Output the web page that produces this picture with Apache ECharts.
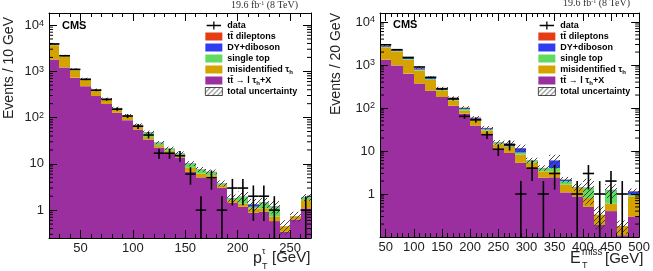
<!DOCTYPE html>
<html><head><meta charset="utf-8">
<script src="https://cdn.jsdelivr.net/npm/echarts@6/dist/echarts.min.js"></script>
<style>html,body{margin:0;padding:0;background:#fff}#c{width:653px;height:271px}</style>
</head><body><div id="c"></div><script>
// ---------- Left panel: tau pT, 10 GeV bins ----------
const ptEdges = [20,30,40,50,60,70,80,90,100,110,120,130,140,150,160,170,180,190,200,210,220,230,240,250,260,270];
const ptData  = [3900,2170,1100,670,390,247,152,108,65,42,17,17,15,6,1,5,1,3,3,2,2,1,0,0,1];
const ptSig   = [1810,1215,730,477,292,196,127,88,55,33.7,22.6,16.8,13.8,6.7,5.1,4.8,3.04,1.44,1.18,0.875,0.92,0.58,0.34,0.63,1.09];
const ptMisid = [1850,855,320,170,82,44,23,16,8,4.2,2.8,2.4,1.7,1.5,1.1,0.9,0.43,0.2,0.21,0.21,0.17,0.14,0.11,0.11,0.55];
const ptStop  = [90,60,35,25,18,11,8,6,5,9,2.8,2.0,1.1,1.8,1.3,0.9,0.3,0.15,0.55,0.1,0.35,0.46,0,0,0.24];
const ptDY    = [60,40,25,15,8,5,3,2,1.5,1,0.5,0.3,0.2,0.2,0.1,0.1,0.03,0.02,0.02,0.15,0.02,0.02,0,0,0.02];
const ptDilep = [25,15,8,5,3,2,1,1,0.5,0.5,0.2,0.1,0.1,0.05,0.05,0.05,0.02,0.01,0.01,0.01,0.01,0.01,0,0,0.01];
const ptUnc   = [0.04,0.04,0.04,0.05,0.05,0.05,0.06,0.06,0.07,0.08,0.08,0.09,0.1,0.12,0.12,0.12,0.15,0.2,0.28,0.3,0.25,0.3,0.35,0.25,0.17];

// ---------- Right panel: MET, 20 GeV bins ----------
const metEdges = [40,60,80,100,120,140,160,180,200,220,240,260,280,300,320,340,360,380,400,420,440,460,480,500];
const metData  = [2950,2270,1500,900,517,277,162,64,53,24,11,14,1,4,1,3,0,1,3,1,2,1,0];
const metSig   = [1330,980,630,370,250,180,113,74,39,25,11.5,9,5.3,4.0,2.4,2.44,1.09,0.88,0.50,0.19,0.40,0.11,0.30];
const metMisid = [1250,1100,700,370,200,75,38,13,14,5,2.8,3.5,2.9,1.3,0.95,0.93,0.56,0.5,0.31,0.14,0.2,0.07,0.58];
const metStop  = [80,60,50,40,25,15,10,8,3,2,1.2,0.4,1.0,0.6,0.6,0.65,0.35,0.05,0.57,0,0.62,0,0.08];
const metDY    = [110,90,80,60,35,20,12,5,3,2,0.3,2.0,2.4,0.1,0.05,2.0,0.15,0.02,0.02,0,0.02,0,0.19];
const metDilep = [30,25,20,15,8,5,3,2,1,0.5,0.2,0.2,0.1,0.05,0.05,0.05,0.02,0.01,0.01,0,0.01,0,0.02];
const metUnc   = [0.04,0.04,0.04,0.05,0.05,0.06,0.06,0.08,0.08,0.1,0.12,0.15,0.2,0.15,0.15,0.35,0.15,0.2,0.6,0.55,0.35,0.35,0.15];

const FONT = '"Liberation Sans", Arial, sans-serif';
const SERIF = '"Liberation Serif", "Times New Roman", serif';
const COLORS = {sig:'#9b2f9f', misid:'#d6a200', stop:'#5fdc5f', dy:'#2f3cf0', dilep:'#e63c14'};
const LABELS = {
  data:'data', dilep:'tt\u0304 dileptons', dy:'DY+diboson', stop:'single top',
  misid:'misidentified \u03c4{sub|h}', sig:'tt\u0304 \u2192 l \u03c4{sub|h}+X', unc:'total uncertainty'
};

function hatchCanvas() {
  const c = document.createElement('canvas'); c.width = 5; c.height = 5;
  const g = c.getContext('2d');
  g.strokeStyle = '#333'; g.lineWidth = 0.9;
  g.beginPath();
  g.moveTo(0,5); g.lineTo(5,0);
  g.moveTo(-1,1); g.lineTo(1,-1);
  g.moveTo(4,6); g.lineTo(6,4);
  g.stroke();
  return c;
}
const HATCH = {image: hatchCanvas(), repeat: 'repeat'};

function rectRender(fill) {
  return function (params, api) {
    const a = api.coord([api.value(0), api.value(3)]);
    const b = api.coord([api.value(1), api.value(2)]);
    const x0 = Math.round(a[0]), x1 = Math.round(b[0]);
    if (!(b[1] > a[1])) return;
    return {type:'rect', shape:{x:x0, y:a[1], width:x1-x0, height:b[1]-a[1]}, style:{fill: fill}};
  };
}
function dataRender(params, api) {
  const c = api.coord([api.value(0), api.value(3)]);
  const l = api.coord([api.value(1), api.value(3)]);
  const r = api.coord([api.value(2), api.value(3)]);
  const lo = api.coord([api.value(0), api.value(4)]);
  const hi = api.coord([api.value(0), api.value(5)]);
  const st = {stroke:'#000', lineWidth:1.6};
  return {type:'group', children:[
    {type:'line', shape:{x1:l[0], y1:c[1], x2:r[0], y2:c[1]}, style:st},
    {type:'line', shape:{x1:c[0], y1:lo[1], x2:c[0], y2:hi[1]}, style:st}
  ]};
}
function minorTickRender(params, api) {
  const cs = params.coordSys;
  const y = api.coord([api.value(0), api.value(1)])[1];
  const st = {stroke:'#000', lineWidth:1};
  return {type:'group', children:[
    {type:'line', shape:{x1:cs.x, y1:y, x2:cs.x+4, y2:y}, style:st},
    {type:'line', shape:{x1:cs.x+cs.width, y1:y, x2:cs.x+cs.width-4, y2:y}, style:st}
  ]};
}

function panelSeries(p, edges, data, comps, unc, yMin, yMax) {
  const keys = ['sig','misid','stop','dy','dilep'];
  const stacks = keys.map(() => []);
  const band = [];
  for (let i = 0; i < edges.length - 1; i++) {
    let cum = 0;
    comps.forEach((arr, k) => {
      const lo = cum; cum += arr[i];
      if (arr[i] > 0) stacks[k].push([edges[i], edges[i+1], Math.max(lo, yMin), cum]);
    });
    band.push([edges[i], edges[i+1], Math.max(cum*(1-unc[i]), yMin), cum*(1+unc[i])]);
  }
  const pts = [];
  data.forEach((n, i) => {
    if (n <= 0) return;
    const e = Math.sqrt(n);
    pts.push([(edges[i]+edges[i+1])/2, edges[i], edges[i+1], n, Math.max(n-e, yMin), n+e]);
  });
  const minors = [];
  for (let k = -2; k <= 4; k++) for (let m = 2; m <= 9; m++) {
    const v = m * Math.pow(10, k);
    if (v > yMin && v < yMax) minors.push([edges[0], v]);
  }
  const ax = {xAxisIndex: p*2, yAxisIndex: p*2};
  const out = [];
  keys.forEach((k, j) => out.push(Object.assign({
    type:'custom', name:k, clip:true, z:2, silent:true,
    itemStyle:{color:COLORS[k]}, encode:{x:[0,1], y:[2,3]},
    data:stacks[j], renderItem:rectRender(COLORS[k])
  }, ax)));
  out.push(Object.assign({type:'custom', name:'unc', clip:true, z:3, silent:true,
    itemStyle:{color:HATCH}, encode:{x:[0,1], y:[2,3]}, data:band, renderItem:rectRender(HATCH)}, ax));
  out.push(Object.assign({type:'custom', name:'data', clip:true, z:4, silent:true,
    itemStyle:{color:'#000'}, encode:{x:[0,1,2], y:[3,4,5]}, data:pts, renderItem:dataRender}, ax));
  out.push(Object.assign({type:'custom', name:'minor', z:12, silent:true,
    encode:{x:0, y:1}, data:minors, renderItem:minorTickRender}, ax));
  return out;
}

const LYMIN = 0.25, LYMAX = 18200, RYMIN = 0.1, RYMAX = 16200;

function yLabel(v) {
  const e = Math.round(Math.log10(v));
  if (e === 0) return '1';
  if (e === 1) return '10';
  return '10{sup|' + e + '}';
}
function xAxisCfg(grid, min, max, split, pos, showMax) {
  return {
    gridIndex:grid, type:'value', min:min, max:max, splitNumber:split, position:pos, z:10,
    axisLine:{show:true, onZero:false, lineStyle:{color:'#000', width:1}},
    axisTick:{show:true, inside:true, length:8, lineStyle:{color:'#000'}},
    minorTick:{show:true, splitNumber:5, length:4, lineStyle:{color:'#000'}},
    splitLine:{show:false}, minorSplitLine:{show:false},
    axisLabel:{show: pos === 'bottom', showMinLabel:false, showMaxLabel:showMax, margin:4,
      fontFamily:FONT, fontSize:13, color:'#222'}
  };
}
function yAxisCfg(grid, min, max, pos) {
  return {
    gridIndex:grid, type:'log', logBase:10, min:min, max:max, position:pos, z:10,
    axisLine:{show:true, onZero:false, lineStyle:{color:'#000', width:1}},
    axisTick:{show:true, inside:true, length:8, lineStyle:{color:'#000'}},
    splitLine:{show:false},
    axisLabel:{show: pos === 'left', showMinLabel:false, showMaxLabel:false, margin:5,
      formatter:yLabel, fontFamily:FONT, fontSize:13, color:'#222',
      rich:{sup:{fontFamily:FONT, fontSize:9, color:'#222', verticalAlign:'top', lineHeight:9}}}
  };
}
const legendItems = [
  {name:'data', icon:'path://M0,4.2H18V5.8H0Z M8.2,0H9.8V10H8.2Z'},
  {name:'dilep', icon:'rect'}, {name:'dy', icon:'rect'}, {name:'stop', icon:'rect'},
  {name:'misid', icon:'rect'}, {name:'sig', icon:'rect'},
  {name:'unc', icon:'rect', itemStyle:{borderColor:'#000', borderWidth:0.7}}
];
function legendCfg(left) {
  return {orient:'vertical', left:left, top:20, itemWidth:17, itemHeight:8, itemGap:0, padding:0,
    selectedMode:false, data:legendItems, formatter:n => LABELS[n],
    textStyle:{fontFamily:FONT, fontSize:9, fontWeight:'bold', color:'#000', lineHeight:11,
      rich:{sub:{fontFamily:FONT, fontSize:6, fontWeight:'bold', color:'#000', lineHeight:5, verticalAlign:'bottom'}}}};
}
function txt(x, y, text, size, extra) {
  return {type:'text', x:x, y:y, z:20, style:Object.assign({text:text, fontFamily:FONT, fontSize:size, fill:'#222',
    align:'left', verticalAlign:'middle', textAlign:'left', textVerticalAlign:'middle'}, extra || {})};
}

const option = {
  animation:false,
  backgroundColor:'#fff',
  grid:[
    {left:49, top:13, width:262, height:225, show:false},
    {left:380, top:13, width:263, height:224, show:false}
  ],
  xAxis:[
    xAxisCfg(0, 20, 270, 5, 'bottom', false), xAxisCfg(0, 20, 270, 5, 'top', false),
    xAxisCfg(1, 40, 500, 9, 'bottom', true), xAxisCfg(1, 40, 500, 9, 'top', true)
  ],
  yAxis:[
    yAxisCfg(0, LYMIN, LYMAX, 'left'), yAxisCfg(0, LYMIN, LYMAX, 'right'),
    yAxisCfg(1, RYMIN, RYMAX, 'left'), yAxisCfg(1, RYMIN, RYMAX, 'right')
  ],
  legend:[legendCfg(205), legendCfg(538)],
  series: [].concat(
    panelSeries(0, ptEdges, ptData, [ptSig, ptMisid, ptStop, ptDY, ptDilep], ptUnc, LYMIN, LYMAX),
    panelSeries(1, metEdges, metData, [metSig, metMisid, metStop, metDY, metDilep], metUnc, RYMIN, RYMAX)
  ),
  graphic:[
    txt(9, 68, 'Events / 10 GeV', 14, {align:'center', textAlign:'center'}),
    txt(336, 64, 'Events / 20 GeV', 14, {align:'center', textAlign:'center'}),
    txt(62, 26, 'CMS', 11, {fontWeight:'bold', fill:'#000'}),
    txt(393, 25, 'CMS', 11, {fontWeight:'bold', fill:'#000'}),
    txt(298, 5, '19.6 fb{sup|-1} (8 TeV)', 10, {fontFamily:SERIF, fill:'#333', align:'right', textAlign:'right',
      rich:{sup:{fontFamily:SERIF, fontSize:6, fill:'#333', verticalAlign:'top', lineHeight:5}}}),
    txt(630, 3, '19.6 fb{sup|-1} (8 TeV)', 10, {fontFamily:SERIF, fill:'#333', align:'right', textAlign:'right',
      rich:{sup:{fontFamily:SERIF, fontSize:6, fill:'#333', verticalAlign:'top', lineHeight:5}}}),
    txt(253, 259, 'p', 16),
    txt(262, 252, '\u03c4', 9),
    txt(262, 267, 'T', 9),
    txt(272, 258, '[GeV]', 15),
    txt(570, 259, 'E', 16),
    txt(582, 252, 'miss', 10),
    txt(582, 266, 'T', 9),
    txt(605, 259, '[GeV]', 15)
  ]
};
option.graphic[0].rotation = Math.PI/2;
option.graphic[1].rotation = Math.PI/2;

const chart = echarts.init(document.getElementById('c'), null, {renderer:'canvas'});
chart.setOption(option);
</script></body></html>
